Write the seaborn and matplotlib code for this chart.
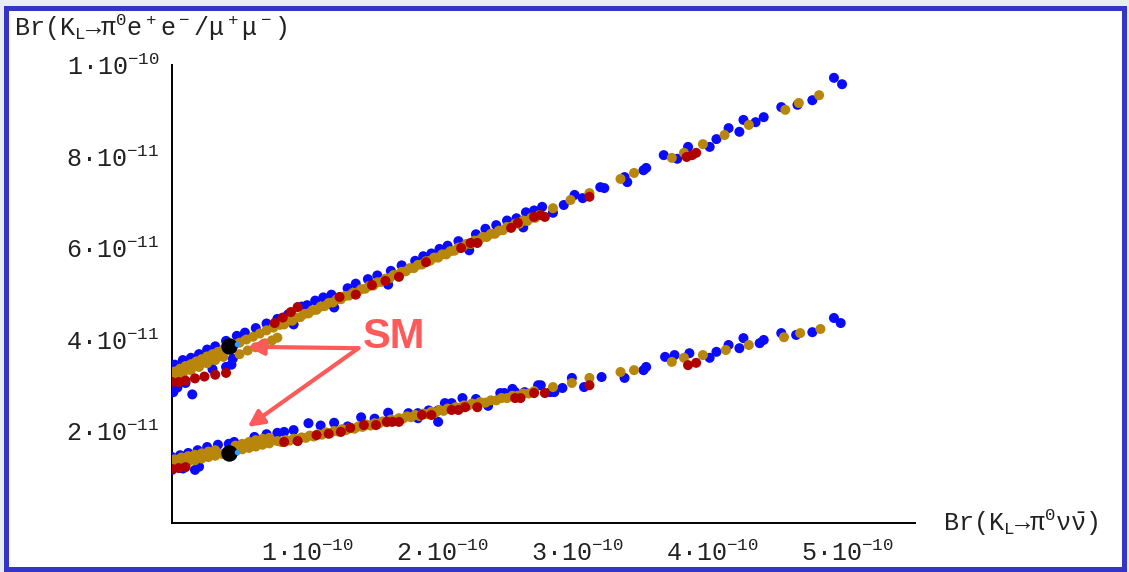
import numpy as np
import pandas as pd
import matplotlib
matplotlib.use("Agg")
import matplotlib.pyplot as plt
from matplotlib.patches import Rectangle
import seaborn as sns

# ---------------- data (x in units of 1e-10, y in units of 1e-11) ----------------
# upper band: K_L -> pi0 e+ e-
ee_gold = [
    (0.02,3.30),(0.06,3.36),(0.10,3.42),(0.14,3.46),(0.18,3.52),(0.22,3.57),(0.26,3.63),(0.30,3.68),
    (0.34,3.73),(0.38,3.78),(0.46,3.89),(0.50,3.93),(0.55,4.00),(0.60,4.06),(0.65,4.13),(0.70,4.20),
    (0.75,4.26),(0.80,4.32),(0.86,4.41),(0.92,4.48),(0.98,4.56),(1.04,4.64),(1.10,4.72),(1.16,4.80),
    (1.22,4.88),(1.28,4.95),(1.34,5.02),(1.40,5.10),(1.46,5.17),(1.52,5.25),(1.58,5.33),(1.64,5.41),
    (1.70,5.48),(1.76,5.56),(1.82,5.63),(1.88,5.71),(1.94,5.79),(2.00,5.86),(2.06,5.93),(2.12,6.01),
    (2.18,6.09),(2.24,6.16),(2.30,6.24),(2.36,6.31),(2.42,6.38),(2.48,6.46),(2.54,6.53),(2.60,6.60),
    (2.66,6.66),(2.72,6.72),
    (0.83,4.33),(0.89,4.41),(0.95,4.49),(1.01,4.57),(1.07,4.65),(1.13,4.73),(1.19,4.81),(1.25,4.88),
    (1.31,4.96),(1.37,5.03),(1.43,5.11),(1.49,5.18),(1.55,5.26),(1.61,5.34),(1.67,5.41),(1.73,5.49),
    (1.79,5.56),(1.85,5.64),(1.91,5.72),(1.97,5.79),(2.03,5.86),(2.09,5.94),(2.15,6.02),(2.21,6.09),
    (2.27,6.17),(2.33,6.24),(2.39,6.31),(2.45,6.39),(2.51,6.46),(2.57,6.53),(2.63,6.59),(2.69,6.66),
    (0.02,3.18),(0.08,3.25),(0.14,3.33),(0.20,3.40),(0.26,3.48),(0.32,3.55),(0.38,3.62),
    (0.50,3.68),(0.56,3.76),(0.62,3.83),(0.68,3.91),(0.74,3.98),(0.78,4.04),
    (2.82,6.87),(2.95,7.05),(3.09,7.20),(3.32,7.51),(3.42,7.64),(3.70,7.97),(3.79,8.08),(3.93,8.27),
    (4.09,8.47),(4.27,8.69),(4.54,9.02),(4.64,9.17),(4.79,9.34),
]
ee_blue = [
    (0.00,3.00),(0.01,2.85),(0.04,2.95),(0.15,2.80),(0.10,3.05),(0.30,3.35),(0.44,3.45),(0.45,3.58),(0.40,3.40),
    (0.02,3.45),(0.08,3.55),(0.14,3.60),(0.20,3.68),(0.26,3.78),(0.32,3.85),(0.40,3.97),(0.48,4.08),
    (0.54,4.15),(0.62,4.25),(0.70,4.35),(0.78,4.45),(0.86,4.55),(0.96,4.72),(1.06,4.85),(1.18,4.98),
    (1.30,5.12),(1.45,5.32),(1.52,5.40),(1.62,5.50),(1.80,5.72),(1.92,5.88),(2.04,6.05),(2.25,6.30),
    (2.40,6.50),(2.55,6.65),(2.68,6.82),(2.74,6.90),
    (1.00,4.75),(1.12,4.92),(1.36,5.22),(1.70,5.62),(1.86,5.82),(1.98,5.98),(2.12,6.15),(2.32,6.42),
    (2.48,6.60),(2.62,6.78),
    (0.90,4.33),(1.20,4.70),(1.60,5.20),(2.20,5.95),(2.60,6.45),
    (2.71,6.79),(2.82,6.77),(2.90,6.94),(2.98,7.16),(3.04,7.09),(3.17,7.33),(3.20,7.31),(3.35,7.55),
    (3.37,7.44),(3.49,7.70),(3.51,7.75),(3.64,8.03),(3.74,7.95),(3.82,8.21),(3.98,8.21),(4.03,8.38),
    (4.12,8.62),(4.20,8.54),(4.23,8.80),(4.32,8.75),(4.38,8.86),(4.51,9.08),(4.63,9.13),(4.74,9.23),
    (4.90,9.72),(4.96,9.58),
]
ee_red = [
    (0.00,3.07),(0.05,3.07),(0.10,3.10),(0.17,3.15),(0.24,3.19),(0.32,3.23),(0.40,3.27),
    (0.76,4.36),(0.82,4.48),(0.88,4.60),(0.93,4.71),
    (1.24,4.93),(1.36,4.98),(1.48,5.19),(1.58,5.28),(1.68,5.37),(1.88,5.69),(2.14,6.00),(2.21,6.11),
    (2.26,6.11),(2.51,6.44),(2.56,6.55),(2.68,6.68),(2.76,6.68),
    (2.73,6.72),(3.09,7.12),(3.81,7.99),(3.85,8.03),(3.88,8.08),
]
# lower band: K_L -> pi0 mu+ mu-
mm_gold = [
    (0.02,1.25),(0.02,1.38),(0.07,1.30),(0.07,1.42),(0.12,1.33),(0.12,1.45),(0.17,1.36),(0.17,1.48),
    (0.22,1.40),(0.22,1.51),(0.27,1.43),(0.27,1.55),(0.32,1.46),(0.32,1.58),(0.37,1.50),(0.47,1.56),
    (0.47,1.68),(0.52,1.60),(0.52,1.72),(0.57,1.63),(0.57,1.76),(0.62,1.66),(0.62,1.80),(0.67,1.70),
    (0.67,1.83),(0.72,1.73),(0.72,1.85),(0.78,1.78),(0.84,1.80),(0.90,1.83),(0.96,1.86),(1.02,1.90),
    (1.08,1.93),(1.14,1.97),(1.20,2.00),(1.26,2.04),(1.32,2.07),(1.38,2.10),(1.44,2.14),(1.50,2.17),
    (1.56,2.21),(1.62,2.25),(1.68,2.28),(1.74,2.32),(1.80,2.35),(1.86,2.38),(1.92,2.42),(1.98,2.46),
    (2.04,2.49),(2.10,2.52),(2.16,2.56),(2.22,2.60),(2.28,2.63),(2.36,2.67),(2.44,2.72),(2.52,2.77),
    (2.60,2.82),(2.68,2.87),
    (0.81,1.76),(0.87,1.79),(0.93,1.82),(0.99,1.85),(1.05,1.88),(1.11,1.92),(1.17,1.95),(1.23,1.99),
    (1.29,2.02),(1.35,2.05),(1.41,2.09),(1.47,2.12),(1.53,2.16),(1.59,2.19),(1.65,2.23),(1.71,2.27),
    (1.77,2.30),(1.83,2.33),(1.89,2.37),(1.95,2.40),(2.01,2.44),(2.07,2.47),(2.13,2.51),(2.19,2.55),
    (2.25,2.58),(2.32,2.62),(2.40,2.67),(2.48,2.72),(2.56,2.77),(2.64,2.82),
    (2.82,2.96),(2.96,3.05),(3.09,3.16),(3.32,3.29),(3.42,3.33),(3.70,3.51),(3.79,3.60),(3.93,3.66),
    (4.10,3.77),(4.27,3.88),(4.53,4.05),(4.65,4.14),(4.80,4.23),
]
mm_blue = [
    (0.00,1.43),(0.06,1.47),(0.12,1.52),(0.19,1.58),(0.26,1.65),(0.34,1.70),(0.42,1.72),(0.46,1.76),
    (0.61,1.87),(0.70,1.93),(0.78,1.96),(0.83,1.98),(1.01,2.17),
    (0.00,1.15),(0.08,1.18),(0.17,1.15),(0.20,1.22),
    (0.90,2.02),(1.10,2.12),(1.20,2.18),(1.40,2.30),(1.60,2.40),(2.15,2.72),(2.52,2.92),
    (1.75,2.39),(1.82,2.39),(1.90,2.45),(1.97,2.45),(2.02,2.61),(2.07,2.61),(2.43,2.83),(2.46,2.83),
    (2.54,2.85),(2.61,2.85),(2.71,3.00),(2.73,3.00),(2.80,2.85),(2.83,2.85),(1.82,2.28),(1.97,2.20),
    (1.30,2.10),(1.50,2.27),(2.25,2.70),(2.34,2.55),
    (2.89,2.94),(2.96,3.16),(3.05,2.96),(3.18,3.18),(3.35,3.16),(3.49,3.33),(3.51,3.40),(3.65,3.62),
    (3.72,3.66),(3.83,3.70),(3.98,3.60),(4.03,3.73),(4.12,3.88),(4.20,3.81),(4.23,4.03),(4.35,3.92),
    (4.38,3.99),(4.51,4.14),(4.62,4.10),(4.74,4.16),(4.90,4.47),(4.95,4.36),
]
mm_red = [
    (0.00,1.17),(0.05,1.19),(0.10,1.21),
    (0.83,1.76),(0.93,1.78),(1.07,1.91),(1.16,1.94),(1.25,1.98),(1.32,2.07),(1.42,2.13),(1.51,2.13),
    (1.59,2.20),(1.63,2.20),(1.68,2.20),(1.85,2.35),(1.92,2.35),(2.07,2.46),(2.12,2.46),(2.17,2.52),
    (2.26,2.52),(2.54,2.72),(2.58,2.72),(2.68,2.83),(2.76,2.83),(3.09,3.00),(3.82,3.44),(3.88,3.49),
]
sm_points = [(0.42, 3.86), (0.42, 1.51)]
sm_cyan = [(0.48, 3.91), (0.48, 1.55)]

x_ticks = [1, 2, 3, 4, 5]
x_labels = ["1·10$^{-10}$", "2·10$^{-10}$", "3·10$^{-10}$", "4·10$^{-10}$", "5·10$^{-10}$"]
y_ticks = [2, 4, 6, 8, 10]
y_labels = ["2·10$^{-11}$", "4·10$^{-11}$", "6·10$^{-11}$", "8·10$^{-11}$", "1·10$^{-10}$"]

# ---------------- build table ----------------
rows = []
for grp, pts in [("blue", ee_blue + mm_blue), ("gold", ee_gold + mm_gold), ("red", ee_red + mm_red)]:
    for x, y in pts:
        rows.append({"x": x * 1e-10, "y": y * 1e-11, "grp": grp})
df = pd.DataFrame(rows)
palette = {"blue": "#0a0aff", "gold": "#b8860b", "red": "#b00000"}

sns.set_theme(style="white")
plt.rcParams["font.family"] = ["Liberation Mono", "DejaVu Sans Mono", "DejaVu Sans"]
plt.rcParams["mathtext.default"] = "regular"

W, H = 1129, 572
fig = plt.figure(figsize=(W / 100, H / 100), dpi=100, facecolor="#e8edf1")
frame = Rectangle((5.5 / W, 3.5 / H), (W - 11) / W, (H - 11) / H,
                  transform=fig.transFigure, facecolor="white",
                  edgecolor="#3434c8", linewidth=3.6, zorder=-10)
fig.patches.append(frame)
ax = fig.add_axes([172 / W, (H - 522.5) / H, (915 - 172) / W, (522.5 - 65) / H])
ax.set_zorder(5)
ax.set_facecolor("none")

sns.scatterplot(data=df, x="x", y="y", hue="grp", palette=palette, s=52,
                marker="o", linewidth=0, legend=False, ax=ax, zorder=3)
ax.scatter([p[0] * 1e-10 for p in sm_points], [p[1] * 1e-11 for p in sm_points],
           s=140, color="black", zorder=5, linewidth=0)
ax.scatter([p[0] * 1e-10 for p in sm_cyan], [p[1] * 1e-11 for p in sm_cyan],
           s=16, color="#2aa0ff", zorder=5, linewidth=0)

ax.set_xlim(0, 5.5e-10)
ax.set_ylim(0, 1.0e-10)
ax.set_xlabel("")
ax.set_ylabel("")
for s in ["top", "right"]:
    ax.spines[s].set_visible(False)
for s in ["left", "bottom"]:
    ax.spines[s].set_color("black")
    ax.spines[s].set_linewidth(1.4)

ax.set_xticks([t * 1e-10 for t in x_ticks], x_labels)
ax.set_yticks([t * 1e-11 for t in y_ticks], y_labels)
ax.set_xticks(np.arange(0.2, 5.5, 0.2) * 1e-10, minor=True)
ax.set_yticks(np.arange(0.5, 10.01, 0.5) * 1e-11, minor=True)
ax.tick_params(axis="both", which="major", direction="in", length=5, width=1.1,
               labelsize=18, color="black", labelcolor="#222222")
ax.tick_params(axis="both", which="minor", direction="in", length=3, width=1.0, color="black")
ax.tick_params(axis="x", which="major", pad=13)
ax.tick_params(axis="y", which="major", pad=9)

fig.text(14 / W, 1 - 28 / H, "Br(K$_L$→π$^0$e$^+$e$^-$/μ$^+$μ$^-$)", fontsize=18,
         ha="left", va="center", color="#222222")
fig.text(943 / W, 1 - 523 / H, "Br(K$_L$→π$^0$ν$\\bar{ν}$)", fontsize=18,
         ha="left", va="center", color="#222222")

arrow_col = "#ff5a5a"
tail = (1.38e-10, 3.81e-11)
for head in [(0.56e-10, 3.84e-11), (0.56e-10, 2.09e-11)]:
    ax.annotate("", xy=head, xytext=tail,
                arrowprops=dict(arrowstyle="-|>", color=arrow_col, lw=3,
                                mutation_scale=24, shrinkA=0, shrinkB=0), zorder=6)
ax.text(1.41e-10, 4.05e-11, "SM", color=arrow_col, fontsize=30, fontweight="bold",
        family="Liberation Sans", ha="left", va="center", zorder=6)

fig.savefig("out.png", dpi=100, facecolor=fig.get_facecolor())
